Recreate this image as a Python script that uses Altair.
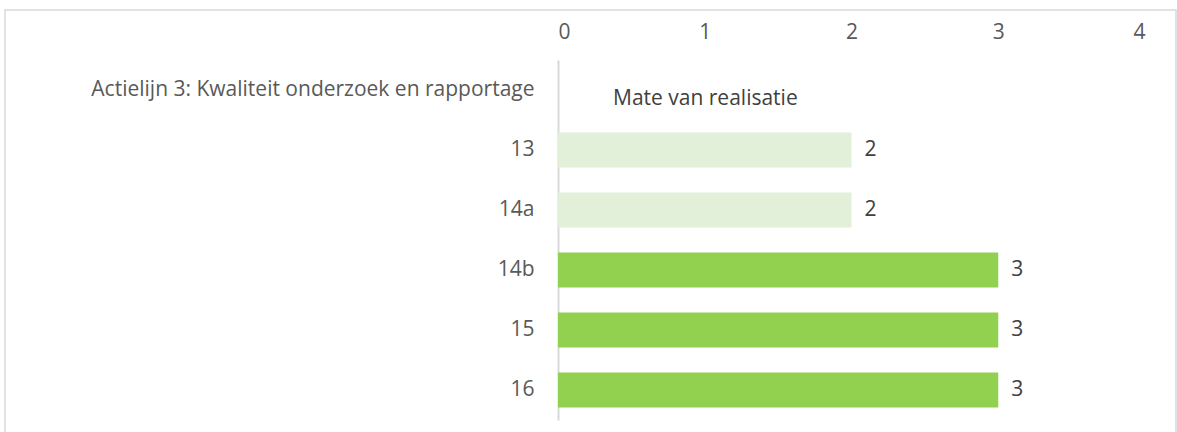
import altair as alt
import pandas as pd

categories = ["Actielijn 3: Kwaliteit onderzoek en rapportage", "13", "14a", "14b", "15", "16"]
values = [None, 2, 2, 3, 3, 3]
colors = [None, "#E2F0D9", "#E2F0D9", "#92D050", "#92D050", "#92D050"]
x_ticks = [0, 1, 2, 3, 4]
legend_text = "Mate van realisatie"

df = pd.DataFrame({"cat": categories, "val": values, "color": colors})
bars_df = df.dropna()

FONT = "Open Sans"
FS = 21
TXT = "#595959"

y_enc = alt.Y("cat:N", sort=categories, title=None,
              scale=alt.Scale(domain=categories, paddingInner=0.42, paddingOuter=0.21),
              axis=alt.Axis(ticks=False, domainColor="#D9D9D9", domainWidth=2,
                            labelColor=TXT, labelFont=FONT, labelFontSize=FS,
                            labelPadding=24, labelLimit=600))
x_enc = alt.X("val:Q", title=None,
              scale=alt.Scale(domain=[0, 4], nice=False),
              axis=alt.Axis(orient="top", values=x_ticks, grid=False, domain=False, ticks=False,
                            labelColor=TXT, labelFont=FONT, labelFontSize=FS, labelPadding=18,
                            format="d"))

border = alt.Chart(pd.DataFrame({"a": [1]})).mark_rect(
    fill=None, stroke="#D9D9D9", strokeWidth=1.5, clip=False
).encode(x=alt.value(5 - 558), x2=alt.value(1176 - 558), y=alt.value(10 - 60), y2=alt.value(440 - 60))

bars = alt.Chart(bars_df).mark_bar().encode(
    x=x_enc, y=y_enc, color=alt.Color("color:N", scale=None)
)

labels = alt.Chart(bars_df).mark_text(
    align="left", baseline="middle", dx=13, font=FONT, fontSize=FS, color="#404040"
).encode(x="val:Q", y=alt.Y("cat:N", sort=categories), text=alt.Text("val:Q", format="d"))

legend = alt.Chart(pd.DataFrame({"t": [legend_text]})).mark_text(
    align="left", baseline="middle", font=FONT, fontSize=FS, color="#404040"
).encode(x=alt.value(55), y=alt.value(39), text="t:N")

chart = alt.layer(border, bars, labels, legend).properties(
    width=587, height=360,
    padding={"left": 558, "top": 60, "right": 32, "bottom": 12},
    autosize=alt.AutoSizeParams(type="none"),
).configure(background="white").configure_view(strokeWidth=0, stroke="transparent")

chart.save("out.html", embed_options={"renderer": "svg", "actions": False})
